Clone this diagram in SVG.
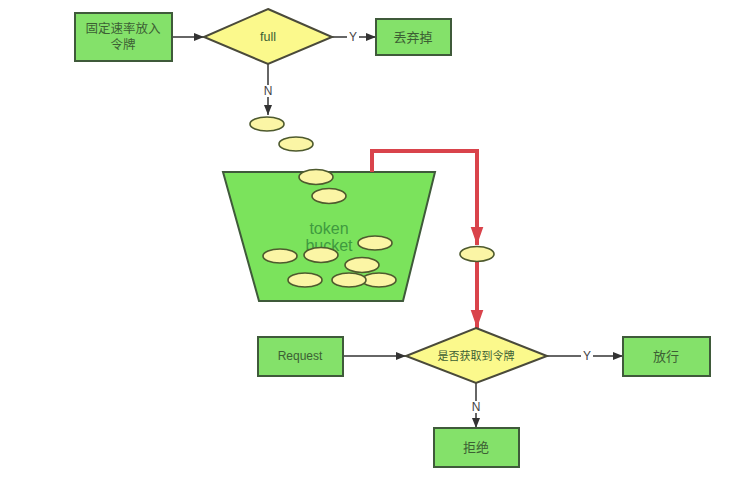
<svg xmlns="http://www.w3.org/2000/svg" width="736" height="483" viewBox="0 0 736 483">
<defs>
<marker id="ah" viewBox="0 0 10 10" refX="10" refY="5" markerWidth="10" markerHeight="10" markerUnits="userSpaceOnUse" orient="auto"><path d="M0,1 L10,5 L0,9 Z" fill="#333"/></marker>
<marker id="ahr" viewBox="0 0 10 10" refX="10" refY="5" markerWidth="18" markerHeight="18" markerUnits="userSpaceOnUse" orient="auto"><path d="M0,1.5 L10,5 L0,8.5 Z" fill="#d9434b"/></marker>
</defs>
<style>
.box{fill:#84e16a;stroke:#3f5a3a;stroke-width:2}
.dia{fill:#fbf98c;stroke:#4a4a3a;stroke-width:2}
.tok{fill:#fbf5a5;stroke:#4e5a2e;stroke-width:1.6}
.t{font-family:"Liberation Sans","Noto Sans CJK SC",sans-serif;fill:#3c5f34;text-anchor:middle;dominant-baseline:central}
.c{stroke:#333;stroke-width:1.5;fill:none}
.lb{font-family:"Liberation Sans","Noto Sans CJK SC",sans-serif;fill:#444;font-size:12px;text-anchor:middle;dominant-baseline:central}
</style>
<rect width="736" height="483" fill="#ffffff"/>
<g id="bucket">
<polygon points="223,172 435,172 403,301 259,301" fill="#7be35c" stroke="#3f5a3a" stroke-width="2"/>
<text class="t" x="329" y="228" font-size="16" style="fill:#3f9a3f">token</text>
<text class="t" x="329" y="245" font-size="16" style="fill:#3f9a3f">bucket</text>
</g>
<g id="connectors">
<line class="c" x1="172" y1="37" x2="204" y2="37" marker-end="url(#ah)"/>
<line class="c" x1="332" y1="37" x2="347" y2="37"/>
<line class="c" x1="359" y1="37" x2="376" y2="37" marker-end="url(#ah)"/>
<line class="c" x1="268" y1="64" x2="268" y2="85"/>
<line class="c" x1="268" y1="97" x2="268" y2="115" marker-end="url(#ah)"/>
<polyline points="372,172 372,151 477,151 477,245" fill="none" stroke="#d9434b" stroke-width="4" marker-end="url(#ahr)"/>
<line x1="477" y1="262" x2="477" y2="328" stroke="#d9434b" stroke-width="4" marker-end="url(#ahr)"/>
<line class="c" x1="343" y1="356" x2="406" y2="356" marker-end="url(#ah)"/>
<line class="c" x1="547" y1="356" x2="581" y2="356"/>
<line class="c" x1="593" y1="356" x2="623" y2="356" marker-end="url(#ah)"/>
<line class="c" x1="476" y1="383" x2="476" y2="401"/>
<line class="c" x1="476" y1="413" x2="476" y2="428" marker-end="url(#ah)"/>
<text class="lb" x="353" y="37">Y</text>
<text class="lb" x="268" y="91">N</text>
<text class="lb" x="587" y="356">Y</text>
<text class="lb" x="476" y="407">N</text>
</g>
<g id="tokens">
<ellipse class="tok" cx="267" cy="124" rx="17" ry="7"/>
<ellipse class="tok" cx="296" cy="144" rx="17" ry="7"/>
<ellipse class="tok" cx="316" cy="177" rx="17" ry="7.5"/>
<ellipse class="tok" cx="329" cy="196" rx="17" ry="7.5"/>
<ellipse class="tok" cx="375" cy="243" rx="17" ry="7"/>
<ellipse class="tok" cx="280" cy="256" rx="17" ry="7"/>
<ellipse class="tok" cx="321" cy="255" rx="17" ry="7.5"/>
<ellipse class="tok" cx="362" cy="265" rx="17" ry="7.5"/>
<ellipse class="tok" cx="305" cy="280" rx="17" ry="7"/>
<ellipse class="tok" cx="379" cy="280" rx="17" ry="7"/>
<ellipse class="tok" cx="349" cy="280" rx="17" ry="7"/>
<ellipse class="tok" cx="477" cy="254" rx="17" ry="7.5"/>
</g>
<g id="n-fixed">
<rect class="box" x="75" y="13" width="97" height="48"/>
<text class="t" x="123" y="29" font-size="12.5">固定速率放入</text>
<text class="t" x="123" y="45" font-size="12.5">令牌</text>
</g>
<g id="n-full">
<polygon class="dia" points="268,9 332,37 268,64 204,37"/>
<text class="t" x="268" y="37" font-size="12.5">full</text>
</g>
<g id="n-drop">
<rect class="box" x="376" y="19" width="75" height="36"/>
<text class="t" x="413" y="37" font-size="13">丢弃掉</text>
</g>
<g id="n-request">
<rect class="box" x="258" y="337" width="85" height="39"/>
<text class="t" x="300" y="356" font-size="12">Request</text>
</g>
<g id="n-check">
<polygon class="dia" points="476,328 547,356 476,383 406,356"/>
<text class="t" x="476" y="356" font-size="11">是否获取到令牌</text>
</g>
<g id="n-pass">
<rect class="box" x="623" y="337" width="87" height="39"/>
<text class="t" x="666" y="356" font-size="13">放行</text>
</g>
<g id="n-reject">
<rect class="box" x="434" y="428" width="85" height="39"/>
<text class="t" x="476" y="447" font-size="13">拒绝</text>
</g>
</svg>
